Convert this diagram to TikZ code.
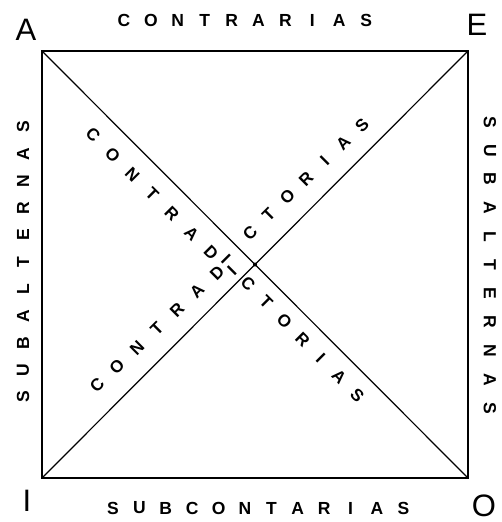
\documentclass[tikz,border=0pt]{standalone}
\usepackage{fontspec}
\setmainfont{Liberation Sans}
\begin{document}
\begin{tikzpicture}[x=1pt,y=-1pt,
  corner/.style={font=\fontsize{31}{31}\selectfont, inner sep=0pt},
  side/.style={font=\bfseries\fontsize{17.5}{17.5}\selectfont, inner sep=0pt},
  dg/.style={font=\bfseries\fontsize{17}{17}\selectfont, inner sep=0pt},
  box/.style={line width=1.8pt},
  diag/.style={line width=1.2pt}]
\useasboundingbox (0,0) rectangle (502,522);
\fill[white] (0,0) rectangle (502,522);
% corners
\coordinate (cA) at (42,51);
\coordinate (cE) at (468,51);
\coordinate (cI) at (42,478);
\coordinate (cO) at (468,478);
\draw[box] (cA) -- (cE) -- (cO) -- (cI) -- cycle;
\draw[diag] (cA) -- (cO);
\draw[diag] (cE) -- (cI);
\node[circle, fill=black, inner sep=0pt, minimum size=4pt] (mid) at (255,264.5) {};
% corner labels
\node[corner] (lA) at (26,30) {A};
\node[corner] (lE) at (477,25) {E};
\node[corner] (lI) at (27,501) {I};
\node[corner] (lO) at (484,506) {O};
% top text
\foreach \l [count=\i from 0] in {C,O,N,T,R,A,R,I,A,S}
  \node[side] (t\i) at ({124+26.9*\i},20) {\l};
% bottom text
\foreach \l [count=\i from 0] in {S,U,B,C,O,N,T,A,R,I,A,S}
  \node[side] (b\i) at ({113+26.4*\i},508) {\l};
% left text
\foreach \l [count=\i from 0] in {S,U,B,A,L,T,E,R,N,A,S}
  \node[side, rotate=90] (l\i) at (23,{397-27*\i}) {\l};
% right text
\foreach \l [count=\i from 0] in {S,U,B,A,L,T,E,R,N,A,S}
  \node[side, rotate=-90] (r\i) at (490,{122+28.6*\i}) {\l};
% diagonal texts
\foreach \l [count=\i from 0] in {C,O,N,T,R,A,D}
  \node[dg, rotate=-45] (ul\i) at ({93+19.7*\i},{135+19.7*\i}) {\l};
\node[dg, rotate=-45] (ulI) at (226,259) {I};
\foreach \l [count=\i from 0] in {C,T,O,R,I,A,S}
  \node[dg, rotate=45] (ur\i) at ({250+18.67*\i},{233-18*\i}) {\l};
\foreach \l [count=\i from 0] in {C,O,N,T,R,A,D}
  \node[dg, rotate=45] (ll\i) at ({97+20*\i},{385-18.7*\i}) {\l};
\node[dg, rotate=45] (llI) at (232,271) {I};
\foreach \l [count=\i from 0] in {C,T,O,R,I,A,S}
  \node[dg, rotate=-45] (lr\i) at ({248+18.2*\i},{284+18.5*\i}) {\l};
\end{tikzpicture}
\end{document}
